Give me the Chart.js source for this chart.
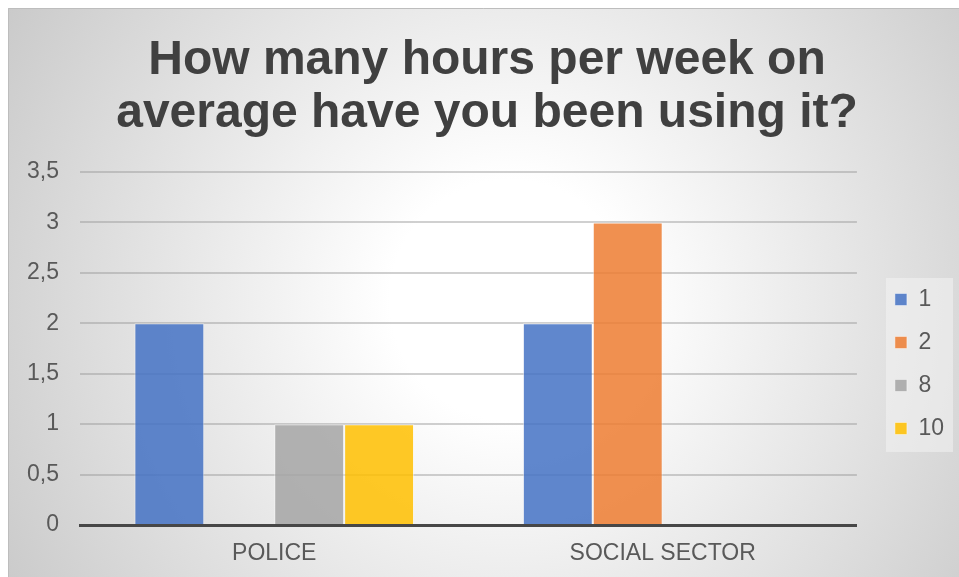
<!DOCTYPE html>
<html>
<head>
<meta charset="utf-8">
<script src="https://cdn.jsdelivr.net/npm/chart.js@4/dist/chart.umd.min.js"></script>
<style>
  body { margin: 0; background: #fff; }
  #wrap { width: 959px; height: 577px; position: relative; }
</style>
</head>
<body>
<div id="wrap"><canvas id="chart"></canvas></div>
<script>
// ── Data ─────────────────────────────────────────────────────────────────────

const TITLE_LINES = ['How many hours per week on', 'average have you been using it?'];
const CATEGORIES = ['POLICE', 'SOCIAL SECTOR'];
const SERIES_NAMES = ['1', '2', '8', '10'];
const HOURS_1 = [2, 2];
const HOURS_2 = [0, 3];
const HOURS_8 = [1, 0];
const HOURS_10 = [1, 0];
const Y_TICKS = [0, 0.5, 1, 1.5, 2, 2.5, 3, 3.5];

const COLORS = ['rgba(68,114,196,0.85)', 'rgba(237,125,49,0.85)', 'rgba(165,165,165,0.85)', 'rgba(255,192,0,0.85)'];
const FONT = "'Liberation Sans', Arial, sans-serif";
const TEXT = '#595959';

function makeDataset(label, data, i) {
    return {
        label,
        data,
        backgroundColor: COLORS[i],
        borderColor: 'rgba(255,255,255,0.45)',
        borderWidth: 1,
        categoryPercentage: 0.72,
        barPercentage: 1.0,
    };
}

// fundo com gradiente radial + caixa da legenda
const backdrop = {
    id: 'backdrop',
    beforeDraw(chart) {
        const ctx = chart.ctx;
        const w = chart.width, h = chart.height;
        ctx.save();
        const g = ctx.createRadialGradient(510, 300, 0, 510, 300, 600);
        g.addColorStop(0, '#ffffff');
        g.addColorStop(0.2, '#ffffff');
        g.addColorStop(1, '#c8c8c8');
        ctx.fillStyle = g;
        ctx.fillRect(8, 8, w - 8, h - 8);
        ctx.strokeStyle = '#bdbdbd';
        ctx.lineWidth = 1;
        ctx.beginPath();
        ctx.moveTo(8.5, h);
        ctx.lineTo(8.5, 8.5);
        ctx.lineTo(w, 8.5);
        ctx.stroke();

        const lg = chart.legend;
        if (lg && lg.columnSizes && lg.columnSizes.length) {
            const pad = lg.options.labels.padding;
            const colH = lg.columnSizes[0].height;
            const titleH = lg._computeTitleHeight();
            const firstTop = (lg.top + titleH + pad + lg.bottom - colH) / 2;
            const top = firstTop - 10;
            const bottom = firstTop + colH - pad + 12;
            ctx.fillStyle = 'rgba(245,245,245,0.5)';
            ctx.fillRect(lg.left + 11, top, lg.right - lg.left - 12, bottom - top);
        }
        ctx.restore();
    },
};

new Chart(document.getElementById('chart'), {
    type: 'bar',
    data: {
        labels: CATEGORIES,
        datasets: [
            makeDataset(SERIES_NAMES[0], HOURS_1, 0),
            makeDataset(SERIES_NAMES[1], HOURS_2, 1),
            makeDataset(SERIES_NAMES[2], HOURS_8, 2),
            makeDataset(SERIES_NAMES[3], HOURS_10, 3),
        ],
    },
    options: {
        responsive: true,
        maintainAspectRatio: false,
        animation: false,
        layout: { padding: { top: 10, left: 20, right: 5, bottom: 0 } },
        plugins: {
            title: {
                display: true,
                text: TITLE_LINES,
                color: '#404040',
                font: { family: FONT, size: 48, weight: 'bold', lineHeight: 1.104 },
                padding: { top: 24, bottom: 32 },
            },
            legend: {
                position: 'right',
                fullSize: false,
                title: { display: true, text: '', font: { size: 10, lineHeight: 1 }, padding: 10.5 },
                labels: {
                    color: TEXT,
                    font: { family: FONT, size: 23 },
                    boxWidth: 12,
                    boxHeight: 12,
                    padding: 20,
                },
            },
            tooltip: { enabled: false },
        },
        scales: {
            x: {
                grid: { display: false, drawTicks: false },
                border: { display: true, color: '#474747', width: 3 },
                ticks: { color: TEXT, font: { family: FONT, size: 23 }, padding: 15 },
                afterFit(s) { s.height = 52; },
            },
            y: {
                min: 0,
                max: 3.5,
                afterBuildTicks(s) { s.ticks = Y_TICKS.map(v => ({ value: v })); },
                grid: { color: 'rgba(150,150,150,0.45)', lineWidth: 2, drawTicks: false },
                border: { display: false },
                ticks: {
                    color: TEXT,
                    font: { family: FONT, size: 23 },
                    padding: 21,
                    callback: v => String(v).replace('.', ','),
                },
                afterFit(s) { s.width = 60; },
            },
            gap: {
                type: 'linear',
                position: 'right',
                display: true,
                grid: { display: false, drawTicks: false },
                border: { display: false },
                ticks: { display: false },
                afterFit(s) { s.width = 18; },
            },
        },
    },
    plugins: [backdrop],
});
</script>
</body>
</html>
